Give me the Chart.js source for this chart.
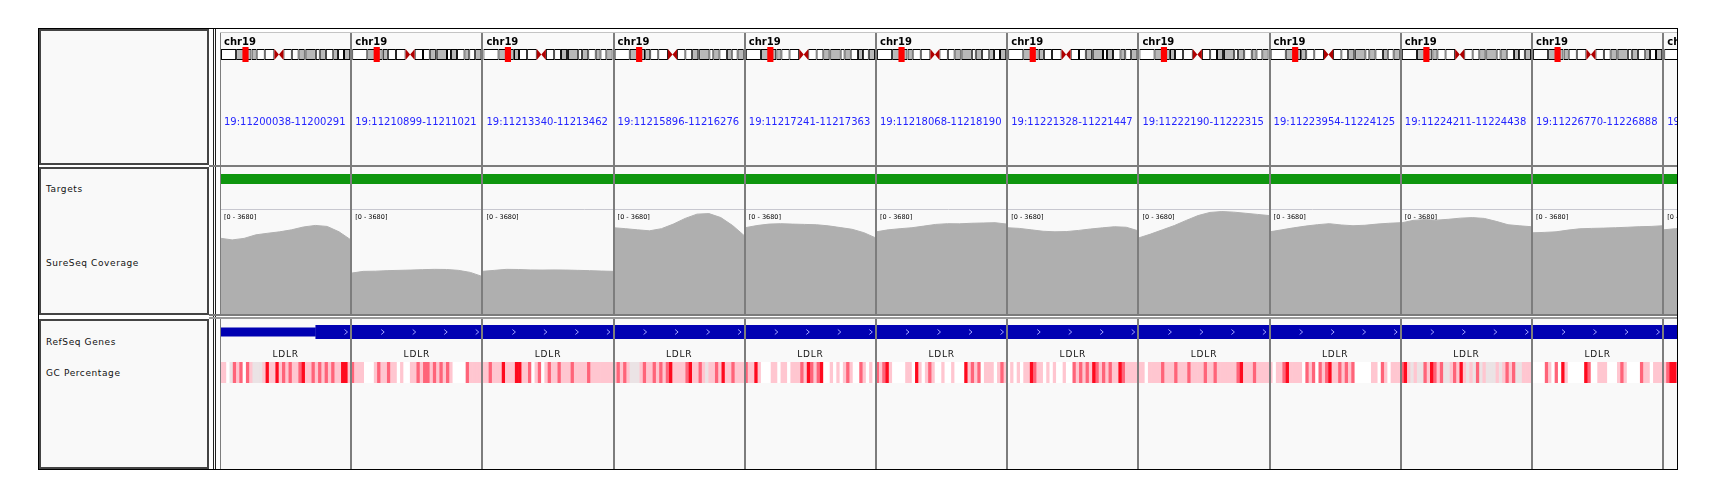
<!DOCTYPE html>
<html>
<head>
<meta charset="utf-8">
<title>LDLR - SureSeq coverage</title>
<script src="https://cdn.jsdelivr.net/npm/chart.js@4.4.1/dist/chart.umd.min.js"></script>
<style>
  html, body { margin: 0; width: 1717px; height: 498px; background: #fff; overflow: hidden; }
  body { position: relative; font-family: 'DejaVu Sans', sans-serif; }
  .abs { position: absolute; box-sizing: border-box; }
  #frame { left: 38px; top: 28px; width: 1640px; height: 442px; border: 1px solid #000; }
  .name { left: 39px; width: 170px; background: #f9f9f9; border: 2px solid #444; }
  .lbl { position: absolute; left: 5px; font-size: 9px; line-height: 10px; letter-spacing: .6px; color: #111; white-space: nowrap; }
  #attr { left: 213px; top: 29px; width: 3px; height: 440px; border-left: 1px solid #222; border-right: 1px solid #222; }
  .row { left: 220px; width: 1457px; background: #f9f9f9; }
  .row canvas { display: block; }
  .sep { left: 209px; width: 1468px; height: 2px; background: #7c7c7c; }
</style>
</head>
<body>
<div id="frame" class="abs"></div>
<div class="abs name" style="top:29px;height:136px"></div>
<div class="abs name" style="top:167px;height:148px">
  <div class="lbl" style="top:15px">Targets</div>
  <div class="lbl" style="top:89px">SureSeq Coverage</div>
</div>
<div class="abs name" style="top:319px;height:150px">
  <div class="lbl" style="top:16px">RefSeq Genes</div>
  <div class="lbl" style="top:47px">GC Percentage</div>
</div>
<div id="attr" class="abs"></div>

<div class="abs row" style="top:32px;height:133px"><canvas id="rowHeader" width="1457" height="133"></canvas></div>
<div class="abs" style="left:220px;top:32px;width:1457px;height:1px;background:#c4c4c4"></div>
<div class="abs sep" style="top:165px"></div>
<div class="abs row" style="top:167px;height:147px"><canvas id="rowCoverage" width="1457" height="147"></canvas></div>
<div class="abs sep" style="top:314px"></div>
<div class="abs sep" style="top:317px;background:#9a9a9a"></div>
<div class="abs row" style="top:319px;height:150px"><canvas id="rowGenes" width="1457" height="150"></canvas></div>

<script>
// ── data (one panel per LDLR exon) ──

const CHROM = 'chr19';
const LOCI = [
    '19:11200038-11200291', '19:11210899-11211021', '19:11213340-11213462',
    '19:11215896-11216276', '19:11217241-11217363', '19:11218068-11218190',
    '19:11221328-11221447', '19:11222190-11222315', '19:11223954-11224125',
    '19:11224211-11224438', '19:11226770-11226888', '19:11227531-11227694'
];

// chr19 cytobands (Mb)
const CHR_LEN = 59.13;
const BAND_START = [0, 6.9, 13.9, 14.0, 16.3, 20.0, 24.4, 26.5, 28.6, 32.4, 35.5, 38.3, 38.7, 43.4, 45.2, 48.0, 51.4, 53.6, 56.3];
const BAND_END   = [6.9, 13.9, 14.0, 16.3, 20.0, 24.4, 26.5, 28.6, 32.4, 35.5, 38.3, 38.7, 43.4, 45.2, 48.0, 51.4, 53.6, 56.3, 59.13];
const BAND_STAIN = ['gneg', 'gpos25', 'gneg', 'gpos25', 'gneg', 'gvar', 'acen', 'acen', 'gvar', 'gneg',
                    'gpos25', 'gneg', 'gpos25', 'gneg', 'gpos25', 'gneg', 'gpos25', 'gneg', 'gpos25'];

// SureSeq coverage, data range [0 - 3680], samples across each panel
const COV_MAX = 3680;
const COV_0  = [2656, 2596, 2650, 2774, 2830, 2880, 2950, 3050, 3104, 3069, 2880, 2596];
const COV_1  = [1433, 1494, 1500, 1520, 1529, 1540, 1555, 1565, 1560, 1530, 1458, 1316];
const COV_2  = [1494, 1530, 1565, 1560, 1545, 1540, 1545, 1540, 1530, 1520, 1505, 1494];
const COV_3  = [3023, 2990, 2950, 2916, 2990, 3150, 3350, 3500, 3520, 3380, 3100, 2738];
const COV_4  = [3023, 3100, 3150, 3165, 3150, 3140, 3129, 3090, 3030, 2970, 2850, 2667];
const COV_5  = [2880, 2950, 2990, 3023, 3080, 3140, 3165, 3160, 3180, 3190, 3200, 3150];
const COV_6  = [3023, 3000, 2950, 2900, 2880, 2890, 2930, 2980, 3020, 3058, 3040, 2916];
const COV_7  = [2667, 2800, 2950, 3100, 3280, 3450, 3560, 3591, 3570, 3530, 3490, 3449];
const COV_8  = [2880, 2950, 3020, 3080, 3130, 3165, 3120, 3094, 3110, 3150, 3180, 3200];
const COV_9  = [3190, 3280, 3307, 3290, 3320, 3360, 3378, 3350, 3247, 3129, 3090, 3058];
const COV_10 = [2845, 2860, 2880, 2940, 2987, 3000, 3010, 3023, 3040, 3060, 3069, 3094];
const COV_11 = [2950, 2990, 3020, 3050, 3060, 3080, 3090, 3100, 3090, 3080, 3070, 3060];

// RefSeq LDLR: coding (thick) and UTR (thin) parts, as fractions of each panel
const GENE_NAME = 'LDLR';
const GENE_THICK = [[0.73, 1], [0, 1], [0, 1], [0, 1], [0, 1], [0, 1], [0, 1], [0, 1], [0, 1], [0, 1], [0, 1], [0, 1]];
const GENE_THIN  = [[0, 0.73], null, null, null, null, null, null, null, null, null, null, null];

// GC percentage heatmap, binned 0 (low) .. 4 (high), 40 cells per panel
const GC_0  = [2,2,0,1,3,2,3,0,3,2,1,1,1,2,4,2,2,4,2,3,2,3,2,2,3,4,2,2,3,2,3,2,3,2,3,2,2,4,4,2];
const GC_1  = [3,2,2,2,0,0,0,2,3,2,2,3,2,2,0,2,0,0,2,2,3,2,3,3,2,3,2,3,2,3,2,0,0,0,0,3,2,2,2,2];
const GC_2  = [2,2,3,2,2,2,4,2,2,2,4,4,2,2,3,0,2,3,0,2,3,2,2,3,2,2,2,3,2,2,2,2,3,2,2,2,2,2,2,2];
const GC_3  = [2,3,2,3,2,1,1,1,2,3,2,2,3,2,3,2,3,4,2,2,2,2,3,4,2,2,3,2,1,2,2,3,2,4,2,2,3,2,2,2];
const GC_4  = [3,2,2,4,2,0,0,0,2,2,0,2,2,0,2,2,2,3,2,4,3,2,3,4,0,0,2,0,2,0,2,3,2,0,0,3,2,0,2,0];
const GC_5  = [3,2,3,4,2,0,0,0,0,2,2,0,4,2,0,2,3,2,0,0,2,0,0,2,0,0,0,4,2,3,2,3,0,2,2,2,0,2,3,2];
const GC_6  = [0,2,0,2,0,2,2,4,3,2,2,0,2,0,2,0,0,2,0,0,3,2,3,2,3,2,4,3,2,3,2,3,2,2,4,3,2,2,2,2];
const GC_7  = [2,2,0,2,2,2,2,3,2,2,2,3,2,2,2,3,2,2,2,2,3,2,2,3,2,2,2,2,2,2,3,4,2,2,2,3,2,2,2,2];
const GC_8  = [2,0,2,2,3,4,2,2,2,2,0,3,2,3,0,3,2,3,4,2,2,3,2,3,2,3,0,0,0,0,0,2,2,0,3,2,0,2,2,2];
const GC_9  = [3,4,2,1,2,1,1,3,2,4,3,2,3,1,1,2,3,2,4,2,1,2,1,3,1,2,1,1,1,2,1,2,3,2,3,1,1,2,2,2];
const GC_10 = [0,0,0,0,3,2,0,3,0,4,2,0,0,0,0,0,4,3,0,0,2,2,2,0,0,0,2,3,2,0,0,0,0,3,2,2,0,2,2,2];
const GC_11 = [2,3,4,4,3,2,2,0,2,3,2,2,0,3,2,2,2,0,2,3,3,2,0,2,2,3,2,2,0,2,3,2,2,2,0,2,3,2,2,2];

// ── styling ──

const VISIBLE_PANELS = 11.105;          // last panel is cut by the window edge
const IDEO_LEFT = 0.008, IDEO_RIGHT = 0.992;
const MARKER_WIDTH = 0.042;
const CHEVRON_GAP = 31.5;
const STAIN_COLOR = { gneg: '#ffffff', gvar: '#ffffff', gpos25: '#b8b8b8' };
const GC_COLOR = ['#ffffff', '#ebe3e5', '#ffc6d0', '#ff6479', '#ff0a1e'];
const FONT = '"DejaVu Sans", sans-serif';

const COVERAGE = [COV_0, COV_1, COV_2, COV_3, COV_4, COV_5, COV_6, COV_7, COV_8, COV_9, COV_10, COV_11];
const GC_BINS = [GC_0, GC_1, GC_2, GC_3, GC_4, GC_5, GC_6, GC_7, GC_8, GC_9, GC_10, GC_11];

// ── helpers ──

function xAxis() {
    return {
        type: 'linear', min: 0, max: VISIBLE_PANELS, offset: false,
        ticks: { display: false },
        border: { display: false },
        grid: { color: '#7d7d7d', lineWidth: 2, drawTicks: false, offset: false, z: 1 },
        afterBuildTicks: s => { s.ticks = LOCI.map((_, k) => ({ value: k })); }
    };
}

// one horizontal strip of a track row (stacked top to bottom)
function strip(weight, category) {
    const axis = { type: category ? 'category' : 'linear', position: 'right', stack: 'row', stackWeight: weight, display: false, offset: !!category };
    if (category) axis.labels = ['t'];
    return axis;
}

function spanBars(label, axis, data, colors, thickness) {
    return {
        type: 'bar', label, indexAxis: 'y', yAxisID: axis, data,
        backgroundColor: colors, borderWidth: 0, borderSkipped: false,
        grouped: false, categoryPercentage: 1, barPercentage: thickness
    };
}

function baseOptions(scales) {
    return {
        responsive: false, animation: false, events: [],
        layout: { padding: 0 },
        plugins: { legend: { display: false }, tooltip: { enabled: false } },
        scales
    };
}

const ideoPos = mb => IDEO_LEFT + (IDEO_RIGHT - IDEO_LEFT) * mb / CHR_LEN;
const locusMb = locus => parseInt(locus.split(':')[1], 10) / 1e6;

// ══════════════════════════════════════════════
// HEADER ROW: chromosome ideogram + locus names
// ══════════════════════════════════════════════

const bandData = [], bandColors = [], markerData = [];
LOCI.forEach((locus, k) => {
    BAND_STAIN.forEach((stain, i) => {
        if (stain === 'acen') return;
        bandData.push({ x: [k + ideoPos(BAND_START[i]), k + ideoPos(BAND_END[i])], y: 't' });
        bandColors.push(STAIN_COLOR[stain]);
    });
    const c = k + ideoPos(locusMb(locus));
    markerData.push({ x: [c - MARKER_WIDTH / 2, c + MARKER_WIDTH / 2], y: 't' });
});

const bands = spanBars('bands', 'yIdeo', bandData, bandColors, 0.73);
bands.borderWidth = 1;
bands.borderColor = '#000';

const headerText = {
    id: 'headerText',
    afterDatasetsDraw(chart) {
        const { ctx, scales: { x, yIdeo, yLocus } } = chart;
        const el = chart.getDatasetMeta(1).data[0];
        const top = el.y - el.height / 2, bot = el.y + el.height / 2, mid = el.y;
        const acen = BAND_STAIN.map((s, i) => i).filter(i => BAND_STAIN[i] === 'acen');
        ctx.save();
        LOCI.forEach((locus, k) => {
            const x0 = x.getPixelForValue(k);
            // centromere
            const xa = x.getPixelForValue(k + ideoPos(BAND_START[acen[0]]));
            const xc = x.getPixelForValue(k + ideoPos(BAND_END[acen[0]]));
            const xb = x.getPixelForValue(k + ideoPos(BAND_END[acen[acen.length - 1]]));
            ctx.fillStyle = '#b00000';
            ctx.beginPath();
            ctx.moveTo(xa, top); ctx.lineTo(xa, bot); ctx.lineTo(xc, mid); ctx.closePath();
            ctx.moveTo(xb, top); ctx.lineTo(xb, bot); ctx.lineTo(xc, mid); ctx.closePath();
            ctx.fill();

            ctx.fillStyle = '#000';
            ctx.font = 'bold 10px ' + FONT;
            ctx.textBaseline = 'alphabetic';
            ctx.fillText(CHROM, x0 + 4, yIdeo.top - 2);

            ctx.fillStyle = '#2424ff';
            ctx.font = '10px ' + FONT;
            ctx.textBaseline = 'middle';
            ctx.fillText(locus, x0 + 4, (yLocus.top + yLocus.bottom) / 2);
        });
        ctx.restore();
    }
};

new Chart(document.getElementById('rowHeader'), {
    type: 'line',
    data: {
        datasets: [
            spanBars('marker', 'yIdeo', markerData, '#ff0000', 1),
            bands
        ]
    },
    options: baseOptions({
        x: xAxis(),
        yHead: strip(15),
        yIdeo: strip(15, true),
        yGap: strip(45),
        yLocus: strip(30),
        yRest: strip(28)
    }),
    plugins: [headerText]
});

// ══════════════════════════════════════════════
// TARGETS + COVERAGE ROW
// ══════════════════════════════════════════════

const coverageData = [];
COVERAGE.forEach((vals, k) => {
    vals.forEach((v, i) => coverageData.push({ x: k + 0.002 + 0.996 * i / (vals.length - 1), y: v }));
    coverageData.push({ x: k + 1, y: null });
});
const targetData = LOCI.map((_, k) => ({ x: [k, k + 1], y: 't' }));

const coverageText = {
    id: 'coverageText',
    afterDatasetsDraw(chart) {
        const { ctx, scales: { x, yCov } } = chart;
        ctx.save();
        ctx.strokeStyle = '#c8c8d0';
        ctx.lineWidth = 1;
        ctx.beginPath();
        ctx.moveTo(0, yCov.top + 0.5);
        ctx.lineTo(chart.width, yCov.top + 0.5);
        ctx.stroke();
        ctx.fillStyle = '#000';
        ctx.font = '6.5px ' + FONT;
        ctx.textBaseline = 'middle';
        LOCI.forEach((_, k) => ctx.fillText(`[0 - ${COV_MAX}]`, x.getPixelForValue(k) + 4, yCov.top + 8));
        ctx.restore();
    }
};

new Chart(document.getElementById('rowCoverage'), {
    type: 'line',
    data: {
        datasets: [
            spanBars('Targets', 'yTgt', targetData, '#0f960f', 1),
            {
                label: 'SureSeq Coverage', yAxisID: 'yCov', data: coverageData,
                fill: 'origin', backgroundColor: '#afafaf', borderColor: '#afafaf',
                borderWidth: 1, pointRadius: 0, tension: 0, spanGaps: false
            }
        ]
    },
    options: baseOptions({
        x: xAxis(),
        yPad: strip(7),
        yTgt: strip(10, true),
        yGap: strip(25),
        yCov: Object.assign(strip(105), { min: 0, max: COV_MAX })
    }),
    plugins: [coverageText]
});

// ══════════════════════════════════════════════
// REFSEQ GENES + GC PERCENTAGE ROW
// ══════════════════════════════════════════════

const thickData = [], thinData = [], gcData = [], gcColors = [];
LOCI.forEach((_, k) => {
    if (GENE_THICK[k]) thickData.push({ x: [k + GENE_THICK[k][0], k + GENE_THICK[k][1]], y: 't' });
    if (GENE_THIN[k]) thinData.push({ x: [k + GENE_THIN[k][0], k + GENE_THIN[k][1]], y: 't' });
    const cells = GC_BINS[k];
    cells.forEach((bin, i) => {
        gcData.push({ x: [k + i / cells.length, k + (i + 1) / cells.length], y: 't' });
        gcColors.push(GC_COLOR[bin]);
    });
});

const geneText = {
    id: 'geneText',
    afterDatasetsDraw(chart) {
        const { ctx, scales: { x, yGene, yGC } } = chart;
        const cy = (yGene.top + yGene.bottom) / 2;
        ctx.save();
        ctx.strokeStyle = '#a0a0ff';
        ctx.lineWidth = 1;
        ctx.beginPath();
        GENE_THICK.forEach((seg, k) => {
            if (!seg) return;
            const p0 = x.getPixelForValue(k);
            const pa = x.getPixelForValue(k + seg[0]), pb = x.getPixelForValue(k + seg[1]);
            for (let cx = p0 + CHEVRON_GAP; cx < pb - 3; cx += CHEVRON_GAP) {
                if (cx < pa + 2) continue;
                ctx.moveTo(cx - 1.5, cy - 2.5);
                ctx.lineTo(cx + 1.5, cy);
                ctx.lineTo(cx - 1.5, cy + 2.5);
            }
        });
        ctx.stroke();
        ctx.fillStyle = '#111';
        ctx.font = '9px ' + FONT;
        ctx.letterSpacing = '0.8px';
        ctx.textAlign = 'center';
        ctx.textBaseline = 'middle';
        LOCI.forEach((_, k) => ctx.fillText(GENE_NAME, x.getPixelForValue(k + 0.5), yGC.top - 7));
        ctx.restore();
    }
};

new Chart(document.getElementById('rowGenes'), {
    type: 'line',
    data: {
        datasets: [
            spanBars('coding', 'yGene', thickData, '#0000b2', 1),
            spanBars('utr', 'yGene', thinData, '#0000b2', 0.64),
            spanBars('GC Percentage', 'yGC', gcData, gcColors, 1)
        ]
    },
    options: baseOptions({
        x: xAxis(),
        yPad: strip(6),
        yGene: strip(14, true),
        yLbl: strip(23),
        yGC: strip(21, true),
        yRest: strip(86)
    }),
    plugins: [geneText]
});
</script>
</body>
</html>
